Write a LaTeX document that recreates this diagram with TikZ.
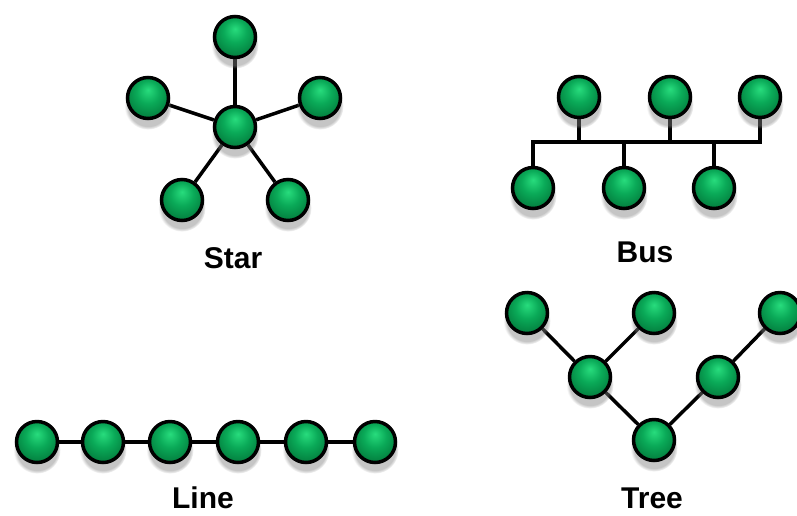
\documentclass[tikz,border=0pt]{standalone}
\usepackage{fontspec}
\setmainfont{Liberation Sans}
\usetikzlibrary{shadows,fadings}
\pgfdeclarelayer{bottom}
\pgfdeclarelayer{links}
\pgfsetlayers{bottom,links,main}
\definecolor{gA}{RGB}{40,220,125}
\definecolor{gB}{RGB}{10,170,88}
\definecolor{gC}{RGB}{0,105,50}
\pgfdeclareradialshading{gball}{\pgfpoint{0bp}{10bp}}{color(0bp)=(gA); color(14bp)=(gB); color(36bp)=(gC); color(50bp)=(gC)}
\tikzset{
  ball/.style={circle, minimum size=41pt, inner sep=0pt, line width=3.5pt, draw=black,
    shading=gball,
    circular drop shadow={shadow xshift=0pt, shadow yshift=-7pt, shadow scale=1.15, opacity=0.45}},
  link/.style={line width=3.5pt, draw=black},
  lbl/.style={font=\fontsize{30}{30}\selectfont\bfseries, anchor=base, inner sep=0pt}
}
\begin{document}
\begin{tikzpicture}[x=1pt,y=-1pt]
\begin{pgfonlayer}{bottom}
\fill[white] (0,0) rectangle (797,515);
\end{pgfonlayer}
\useasboundingbox (0,0) rectangle (797,515);
% ---- Star ----
\node[ball] (sc) at (235,127) {};
\node[ball] (s1) at (235,37) {};
\node[ball] (s2) at (148,98) {};
\node[ball] (s3) at (320,98) {};
\node[ball] (s4) at (182,200) {};
\node[ball] (s5) at (288,200) {};
\node[lbl] (starlbl) at (233,268) {Star};
% ---- Bus ----
\node[ball] (b1) at (579,97) {};
\node[ball] (b2) at (670,97) {};
\node[ball] (b3) at (760,97) {};
\node[ball] (b4) at (533,188) {};
\node[ball] (b5) at (624,188) {};
\node[ball] (b6) at (714,188) {};
\coordinate (busL) at (533,142);
\coordinate (busR) at (760,142);
\node[lbl] (buslbl) at (645,262) {Bus};
% ---- Tree ----
\node[ball] (t1) at (527,313) {};
\node[ball] (t2) at (654,313) {};
\node[ball] (t3) at (780,313) {};
\node[ball] (m1) at (590,377) {};
\node[ball] (m2) at (718,377) {};
\node[ball] (tb) at (654,440) {};
\node[lbl] (treelbl) at (652,508) {Tree};
% ---- Line ----
\node[ball] (l1) at (37,442) {};
\node[ball] (l2) at (103,442) {};
\node[ball] (l3) at (170,442) {};
\node[ball] (l4) at (238,442) {};
\node[ball] (l5) at (306,442) {};
\node[ball] (l6) at (375,442) {};
\node[lbl] (linelbl) at (203,508) {Line};
% ---- connectors (behind) ----
\begin{pgfonlayer}{links}
\draw[link] (sc) -- (s1);
\draw[link] (sc) -- (s2);
\draw[link] (sc) -- (s3);
\draw[link] (sc) -- (s4);
\draw[link] (sc) -- (s5);
\draw[link] (b4) |- (busR) -- (b3);
\draw[link] (b1) -- (b1 |- busL);
\draw[link] (b2) -- (b2 |- busL);
\draw[link] (b5) -- (b5 |- busL);
\draw[link] (b6) -- (b6 |- busL);
\draw[link] (t1) -- (m1) -- (tb) -- (m2) -- (t3);
\draw[link] (t2) -- (m1);
\draw[link] (l1) -- (l2) -- (l3) -- (l4) -- (l5) -- (l6);
\end{pgfonlayer}
\end{tikzpicture}
\end{document}
